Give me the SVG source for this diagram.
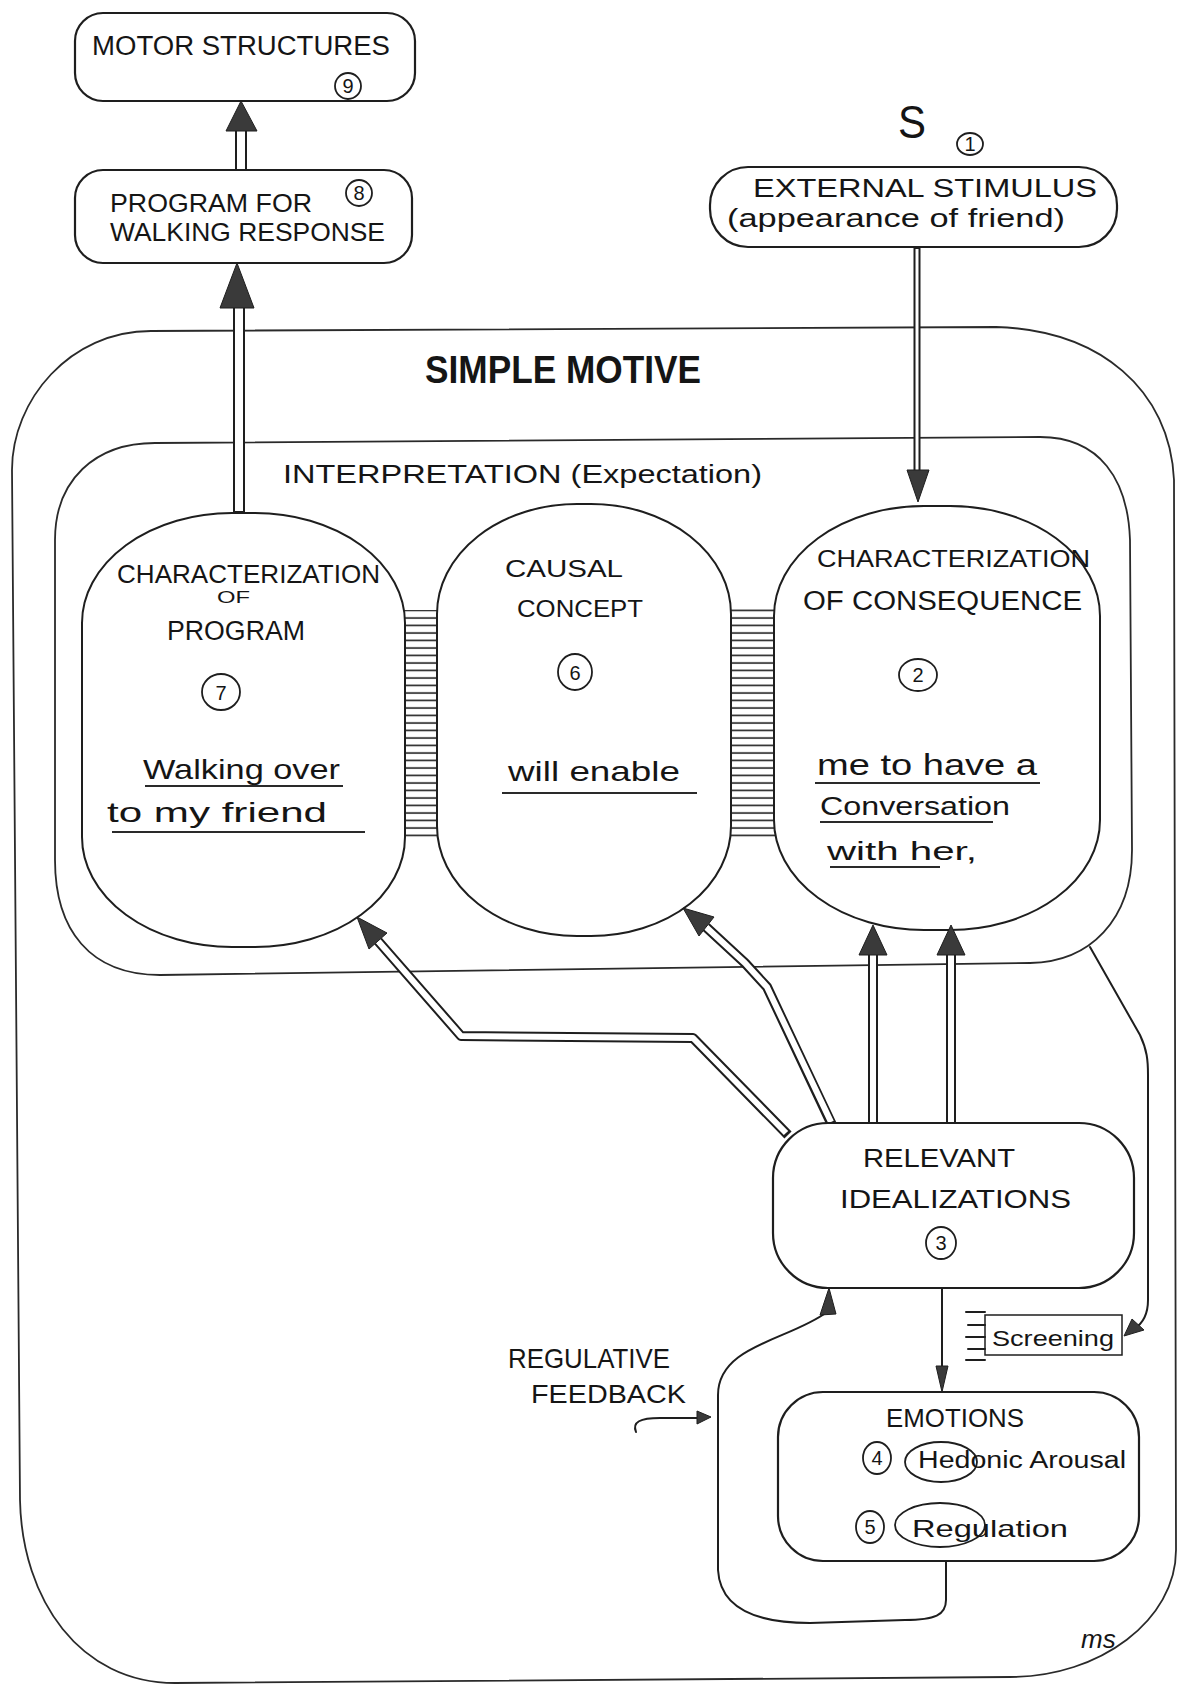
<svg xmlns="http://www.w3.org/2000/svg" width="1183" height="1686" viewBox="0 0 1183 1686">
<defs>
<style>
.ln{fill:none;stroke:#1e1e1e;stroke-width:2;stroke-linecap:round;stroke-linejoin:round}
.frame{fill:none;stroke:#2a2a2a;stroke-width:1.8;stroke-linejoin:round}
.box{fill:#fff;stroke:#1e1e1e;stroke-width:2.2}
.oval{fill:#fff;stroke:#1e1e1e;stroke-width:2}
.head{fill:#3a3a3a;stroke:#1e1e1e;stroke-width:1;stroke-linejoin:round}
.ring{fill:none;stroke:#1e1e1e;stroke-width:1.8}
.t{font-family:"Liberation Sans","DejaVu Sans",sans-serif;fill:#151515}
.num{font-family:"Liberation Sans","DejaVu Sans",sans-serif;font-size:20px;fill:#151515;text-anchor:middle}
.ul{fill:none;stroke:#2a2a2a;stroke-width:2}
.wideO{fill:none;stroke:#1e1e1e;stroke-width:12;stroke-linejoin:round}
.wideI{fill:none;stroke:#fff;stroke-width:8;stroke-linejoin:round}
.midO{fill:none;stroke:#1e1e1e;stroke-width:10;stroke-linejoin:round}
.midI{fill:none;stroke:#fff;stroke-width:6;stroke-linejoin:round}
.narO{fill:none;stroke:#1e1e1e;stroke-width:7}
.narI{fill:none;stroke:#fff;stroke-width:3}
</style>
<pattern id="rungs" width="10" height="7.5" patternUnits="userSpaceOnUse">
<line x1="0" y1="3" x2="10" y2="3" stroke="#1e1e1e" stroke-width="1.6"/>
</pattern>
</defs>

<!-- Outer frame: SIMPLE MOTIVE -->
<g id="simple-motive">
<path class="frame" d="M151,331 L996,327 C1100,330 1170,390 1174,480 L1176,1550 C1176,1620 1100,1677 1010,1677 L175,1683 C80,1683 22,1600 20,1500 L12,470 C12,400 70,331 151,331 Z"/>
<text class="t" x="425" y="383" font-size="38" font-weight="bold" textLength="276" lengthAdjust="spacingAndGlyphs">SIMPLE MOTIVE</text>
</g>

<!-- Inner frame: INTERPRETATION -->
<g id="interpretation">
<path class="frame" d="M155,443 L1040,437 C1100,437 1128,480 1130,540 L1132,850 C1132,920 1090,962 1030,963 L160,975 C90,975 55,930 55,860 L55,540 C55,480 95,443 155,443 Z"/>
<text class="t" x="283" y="483" font-size="26" textLength="479" lengthAdjust="spacingAndGlyphs">INTERPRETATION (Expectation)</text>
</g>

<!-- Linkage rungs between the three concepts -->
<g id="rungs-links">
<rect x="398" y="610" width="50" height="231" fill="url(#rungs)"/>
<rect x="724" y="605" width="58" height="235" fill="url(#rungs)"/>
</g>

<g id="char-program">
<rect class="oval" x="82" y="513" width="323" height="434" rx="150" ry="110"/>
<text class="t" x="117" y="583" font-size="25" textLength="263" lengthAdjust="spacingAndGlyphs">CHARACTERIZATION</text>
<text class="t" x="217" y="603" font-size="17" textLength="33" lengthAdjust="spacingAndGlyphs">OF</text>
<text class="t" x="167" y="640" font-size="27" textLength="138" lengthAdjust="spacingAndGlyphs">PROGRAM</text>
<ellipse class="ring" cx="221" cy="692" rx="19" ry="18"/>
<text class="num" x="221" y="700">7</text>
<text class="t" x="143" y="779" font-size="28" textLength="197" lengthAdjust="spacingAndGlyphs">Walking over</text>
<path class="ul" d="M145,786 H343"/>
<text class="t" x="107" y="822" font-size="28" textLength="220" lengthAdjust="spacingAndGlyphs">to my friend</text>
<path class="ul" d="M112,832 H365"/>
</g>

<g id="causal-concept">
<rect class="oval" x="437" y="504" width="294" height="432" rx="140" ry="110"/>
<text class="t" x="505" y="577" font-size="24" textLength="118" lengthAdjust="spacingAndGlyphs">CAUSAL</text>
<text class="t" x="517" y="617" font-size="24" textLength="126" lengthAdjust="spacingAndGlyphs">CONCEPT</text>
<ellipse class="ring" cx="575" cy="672" rx="17" ry="18"/>
<text class="num" x="575" y="680">6</text>
<text class="t" x="508" y="781" font-size="28" textLength="172" lengthAdjust="spacingAndGlyphs">will enable</text>
<path class="ul" d="M502,793 H697"/>
</g>

<g id="char-consequence">
<rect class="oval" x="774" y="506" width="326" height="424" rx="150" ry="110"/>
<text class="t" x="817" y="567" font-size="24" textLength="273" lengthAdjust="spacingAndGlyphs">CHARACTERIZATION</text>
<text class="t" x="803" y="610" font-size="27" textLength="279" lengthAdjust="spacingAndGlyphs">OF CONSEQUENCE</text>
<ellipse class="ring" cx="918" cy="675" rx="19" ry="16"/>
<text class="num" x="918" y="682">2</text>
<text class="t" x="817" y="775" font-size="30" textLength="220" lengthAdjust="spacingAndGlyphs">me to have a</text>
<path class="ul" d="M815,783 H1040"/>
<text class="t" x="820" y="815" font-size="26" textLength="190" lengthAdjust="spacingAndGlyphs">Conversation</text>
<path class="ul" d="M820,822 H993"/>
<text class="t" x="827" y="860" font-size="26" textLength="150" lengthAdjust="spacingAndGlyphs">with her,</text>
<path class="ul" d="M830,867 H940"/>
</g>

<g id="connectors">
<!-- program -> motor structures -->
<path class="wideO" d="M241,170 V128"/>
<path class="wideI" d="M241,172 V128"/>
<polygon class="head" points="241,101 257,131 226,131"/>
<!-- characterization of program -> program for walking -->
<path class="wideO" d="M239,513 V305"/>
<path class="wideI" d="M239,511 V305"/>
<polygon class="head" points="237,263 254,308 220,308"/>
<!-- stimulus -> characterization of consequence -->
<path class="narO" d="M917,247 V472"/>
<path class="narI" d="M917,249 V472"/>
<polygon class="head" points="918,502 929,470 907,470"/>
<!-- idealizations -> characterization of program -->
<path class="midO" d="M788,1135 L693,1038 L461,1036 L378,941"/>
<path class="midI" d="M786,1133 L693,1038 L461,1036 L378,941"/>
<polygon class="head" points="357,917 387,933 369,949"/>
<!-- idealizations -> causal concept -->
<path class="midO" d="M832,1125 L767,987 L745,963 L706,927"/>
<path class="midI" d="M831,1122 L767,987 L745,963 L706,927"/>
<polygon class="head" points="683,908 714,917 699,936"/>
<!-- idealizations -> characterization of consequence (two) -->
<path class="midO" d="M873,1125 V952"/>
<path class="midI" d="M873,1123 V952"/>
<polygon class="head" points="873,925 887,955 859,955"/>
<path class="midO" d="M951,1125 V952"/>
<path class="midI" d="M951,1123 V952"/>
<polygon class="head" points="951,925 965,955 937,955"/>
<!-- idealizations -> emotions -->
<path class="ln" d="M942,1288 V1368"/>
<polygon class="head" points="942,1392 948,1366 936,1366"/>
<!-- consequence -> screening -->
<path class="ln" d="M1090,947 L1140,1035 C1147,1050 1148,1060 1148,1075 L1148,1300 C1148,1316 1142,1324 1134,1329"/>
<polygon class="head" points="1124,1336 1132,1319 1144,1330"/>
<!-- regulative feedback loop: emotions -> idealizations -->
<path class="ln" d="M946,1562 L946,1600 C946,1615 935,1620 905,1620 L810,1623 C750,1623 720,1605 718,1570 L718,1395 C718,1345 790,1340 827,1312"/>
<polygon class="head" points="829,1288 836,1314 820,1315"/>
<!-- pointer to the feedback loop -->
<path class="ln" d="M636,1432 C632,1422 640,1418 660,1418 L698,1418"/>
<polygon class="head" points="711,1417 697,1411 697,1424"/>
</g>

<g id="motor-structures">
<rect class="box" x="75" y="13" width="340" height="88" rx="28"/>
<text class="t" x="92" y="55" font-size="27" textLength="298" lengthAdjust="spacingAndGlyphs">MOTOR STRUCTURES</text>
<ellipse class="ring" cx="348" cy="86" rx="13" ry="13"/>
<text class="num" x="348" y="93">9</text>
</g>

<g id="program-walking">
<rect class="box" x="75" y="170" width="337" height="93" rx="28"/>
<text class="t" x="110" y="212" font-size="26" textLength="202" lengthAdjust="spacingAndGlyphs">PROGRAM FOR</text>
<text class="t" x="110" y="241" font-size="26" textLength="275" lengthAdjust="spacingAndGlyphs">WALKING RESPONSE</text>
<ellipse class="ring" cx="359" cy="193" rx="13" ry="13"/>
<text class="num" x="359" y="200">8</text>
</g>

<g id="external-stimulus">
<text class="t" x="898" y="138" font-size="46" textLength="28" lengthAdjust="spacingAndGlyphs">S</text>
<ellipse class="ring" cx="970" cy="144" rx="13" ry="11"/>
<text class="num" x="970" y="151" font-size="18">1</text>
<rect class="box" x="710" y="167" width="407" height="80" rx="38"/>
<text class="t" x="753" y="197" font-size="26" textLength="344" lengthAdjust="spacingAndGlyphs">EXTERNAL STIMULUS</text>
<text class="t" x="727" y="227" font-size="26" textLength="338" lengthAdjust="spacingAndGlyphs">(appearance of friend)</text>
</g>

<g id="relevant-idealizations">
<rect class="box" x="773" y="1123" width="361" height="165" rx="55"/>
<text class="t" x="863" y="1167" font-size="25" textLength="152" lengthAdjust="spacingAndGlyphs">RELEVANT</text>
<text class="t" x="840" y="1208" font-size="25" textLength="231" lengthAdjust="spacingAndGlyphs">IDEALIZATIONS</text>
<ellipse class="ring" cx="941" cy="1243" rx="15" ry="16"/>
<text class="num" x="941" y="1250">3</text>
</g>

<g id="screening">
<rect x="985" y="1315" width="137" height="40" fill="#fff" stroke="#1e1e1e" stroke-width="1.5"/>
<path class="ln" stroke-width="1.5" d="M966,1312 H985 M968,1325 H985 M966,1337 H985 M968,1349 H985 M966,1360 H985"/>
<text class="t" x="992" y="1346" font-size="22" textLength="122" lengthAdjust="spacingAndGlyphs">Screening</text>
</g>

<g id="emotions">
<rect class="box" x="778" y="1392" width="361" height="169" rx="45"/>
<text class="t" x="886" y="1427" font-size="26" textLength="138" lengthAdjust="spacingAndGlyphs">EMOTIONS</text>
<ellipse class="ring" cx="877" cy="1458" rx="14" ry="16"/>
<text class="num" x="877" y="1465">4</text>
<ellipse class="ring" cx="941" cy="1462" rx="36" ry="20"/>
<text class="t" x="918" y="1468" font-size="23" textLength="208" lengthAdjust="spacingAndGlyphs">Hedonic Arousal</text>
<ellipse class="ring" cx="870" cy="1527" rx="14" ry="16"/>
<text class="num" x="870" y="1534">5</text>
<ellipse class="ring" cx="940" cy="1525" rx="45" ry="22"/>
<text class="t" x="912" y="1537" font-size="24" textLength="156" lengthAdjust="spacingAndGlyphs">Regulation</text>
</g>

<g id="feedback-label">
<text class="t" x="508" y="1368" font-size="28" textLength="162" lengthAdjust="spacingAndGlyphs">REGULATIVE</text>
<text class="t" x="531" y="1403" font-size="25" textLength="155" lengthAdjust="spacingAndGlyphs">FEEDBACK</text>
</g>

<text class="t" x="1081" y="1648" font-size="26" font-style="italic">ms</text>
</svg>
